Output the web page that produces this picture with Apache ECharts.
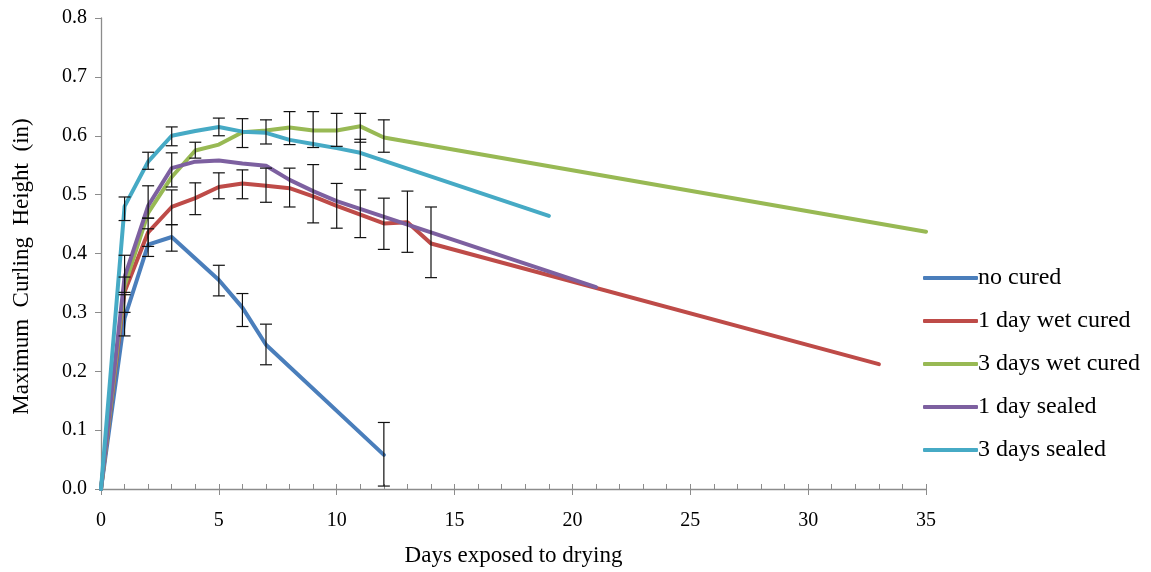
<!DOCTYPE html>
<html>
<head>
<meta charset="utf-8">
<script src="https://cdn.jsdelivr.net/npm/echarts@6/dist/echarts.min.js"></script>
<style>
  html, body { margin: 0; padding: 0; background: #fff; }
  #chart { width: 1151px; height: 572px; }
</style>
</head>
<body>
<div id="chart"></div>
<script>
// values
const seriesNames = ["no cured", "1 day wet cured", "3 days wet cured", "1 day sealed", "3 days sealed"];
const colors = ["#4A7EBB", "#BE4B48", "#98B954", "#7D60A0", "#46AAC5"];

const noCuredDays = [0, 1, 2, 3, 5, 6, 7, 12];
const noCured = [0, 0.29, 0.415, 0.428, 0.355, 0.308, 0.245, 0.058];

const wet1Days = [0, 1, 2, 3, 4, 5, 6, 7, 8, 9, 10, 11, 12, 13, 14, 33];
const wet1 = [0, 0.335, 0.436, 0.479, 0.494, 0.513, 0.519, 0.515, 0.511, 0.497, 0.481, 0.466, 0.451, 0.453, 0.417, 0.212];

const wet3Days = [0, 1, 2, 3, 4, 5, 6, 7, 8, 9, 10, 11, 12, 35];
const wet3 = [0, 0.345, 0.469, 0.530, 0.575, 0.585, 0.606, 0.609, 0.614, 0.609, 0.609, 0.616, 0.597, 0.437];

const sealed1Days = [0, 1, 2, 3, 4, 5, 6, 7, 8, 9, 10, 21];
const sealed1 = [0, 0.36, 0.481, 0.545, 0.556, 0.558, 0.553, 0.549, 0.525, 0.506, 0.489, 0.343];

const sealed3Days = [0, 1, 2, 3, 4, 5, 6, 7, 8, 9, 10, 11, 19];
const sealed3 = [0, 0.48, 0.556, 0.6, 0.608, 0.615, 0.607, 0.605, 0.593, 0.586, 0.579, 0.571, 0.464];

// error bars: [day, low, high]
const noCuredErr = [[1, 0.26, 0.33], [2, 0.395, 0.442], [3, 0.404, 0.449], [5, 0.328, 0.380], [6, 0.276, 0.332], [7, 0.211, 0.280], [12, 0.005, 0.113]];
const wet1Err = [[1, 0.30, 0.36], [2, 0.412, 0.46], [3, 0.449, 0.508], [4, 0.466, 0.520], [5, 0.493, 0.537], [6, 0.493, 0.542], [7, 0.487, 0.545], [8, 0.479, 0.545], [10, 0.443, 0.519], [11, 0.427, 0.508], [12, 0.407, 0.494], [13, 0.402, 0.506], [14, 0.359, 0.479]];
const wet3Err = [[4, 0.562, 0.589], [6, 0.580, 0.629], [7, 0.586, 0.627], [8, 0.585, 0.641], [9, 0.580, 0.641], [10, 0.582, 0.638], [11, 0.589, 0.638], [12, 0.572, 0.627]];
const sealed1Err = [[1, 0.334, 0.397], [2, 0.46, 0.515], [3, 0.513, 0.571], [9, 0.452, 0.551]];
const sealed3Err = [[1, 0.456, 0.496], [2, 0.543, 0.572], [3, 0.583, 0.615], [5, 0.600, 0.630], [11, 0.543, 0.594]];

const xTicks = ["0", "5", "10", "15", "20", "25", "30", "35"];

const font = "Liberation Serif";
const axisGrey = "#8C8C8C";

const zip = (xs, ys) => xs.map((x, i) => [x, ys[i]]);

const lines = [
  zip(noCuredDays, noCured),
  zip(wet1Days, wet1),
  zip(wet3Days, wet3),
  zip(sealed1Days, sealed1),
  zip(sealed3Days, sealed3)
];
const allErr = [].concat(noCuredErr, wet1Err, wet3Err, sealed1Err, sealed3Err);

const renderErr = (params, api) => {
  const x = api.value(0);
  const lo = api.coord([x, api.value(1)]);
  const hi = api.coord([x, api.value(2)]);
  const half = 6;
  const style = { stroke: "#111", lineWidth: 1.2 };
  return {
    type: "group",
    children: [
      { type: "line", shape: { x1: lo[0], y1: lo[1], x2: hi[0], y2: hi[1] }, style: style },
      { type: "line", shape: { x1: lo[0] - half, y1: lo[1], x2: lo[0] + half, y2: lo[1] }, style: style },
      { type: "line", shape: { x1: hi[0] - half, y1: hi[1], x2: hi[0] + half, y2: hi[1] }, style: style }
    ]
  };
};

const series = [];
for (let i = 0; i < seriesNames.length; i++) {
  series.push({
    name: seriesNames[i],
    type: "line",
    data: lines[i],
    showSymbol: false,
    symbol: "none",
    lineStyle: { width: 4, color: colors[i], cap: "round", join: "round" },
    itemStyle: { color: colors[i] },
    z: 2 + i
  });
}
series.push({
  type: "custom",
  renderItem: renderErr,
  data: allErr,
  encode: { x: 0, y: [1, 2] },
  z: 20,
  silent: true
});

const option = {
  animation: false,
  backgroundColor: "#fff",
  textStyle: { fontFamily: font },
  grid: { left: 101, right: 225, top: 18, bottom: 82 },
  legend: {
    data: seriesNames,
    orient: "vertical",
    left: 918,
    top: 261,
    itemWidth: 55,
    itemHeight: 4,
    itemGap: 19,
    icon: "roundRect",
    textStyle: { fontFamily: font, fontSize: 24, color: "#000", padding: [0, 0, 0, -5] }
  },
  xAxis: [
    {
      type: "value",
      min: 0,
      max: 35,
      interval: 1,
      axisLine: { lineStyle: { color: axisGrey, width: 1.3 } },
      axisTick: { inside: true, length: 5, lineStyle: { color: axisGrey } },
      axisLabel: { show: false },
      splitLine: { show: false }
    },
    {
      type: "value",
      position: "bottom",
      min: 0,
      max: 35,
      interval: 5,
      name: "Days exposed to drying",
      nameLocation: "middle",
      nameGap: 55,
      nameTextStyle: { fontFamily: font, fontSize: 23, color: "#000" },
      axisLine: { show: false },
      axisTick: { inside: false, length: 6, lineStyle: { color: axisGrey } },
      axisLabel: {
        fontFamily: font, fontSize: 20, color: "#000", margin: 22,
        formatter: (v) => xTicks[Math.round(v / 5)]
      },
      splitLine: { show: false }
    }
  ],
  yAxis: {
    type: "value",
    min: 0,
    max: 0.8,
    interval: 0.1,
    name: "Maximum  Curling  Height  (in)",
    nameLocation: "middle",
    nameGap: 68,
    nameTextStyle: { fontFamily: font, fontSize: 23, color: "#000", padding: [0, 26, 0, 0] },
    axisLine: { show: true, lineStyle: { color: axisGrey, width: 1.3 } },
    axisTick: { show: true, inside: false, length: 6, lineStyle: { color: axisGrey } },
    axisLabel: { fontFamily: font, fontSize: 20, color: "#000", margin: 14, formatter: (v) => v.toFixed(1) },
    splitLine: { show: false }
  },
  series: series
};

const chart = echarts.init(document.getElementById("chart"));
chart.setOption(option);
</script>
</body>
</html>
